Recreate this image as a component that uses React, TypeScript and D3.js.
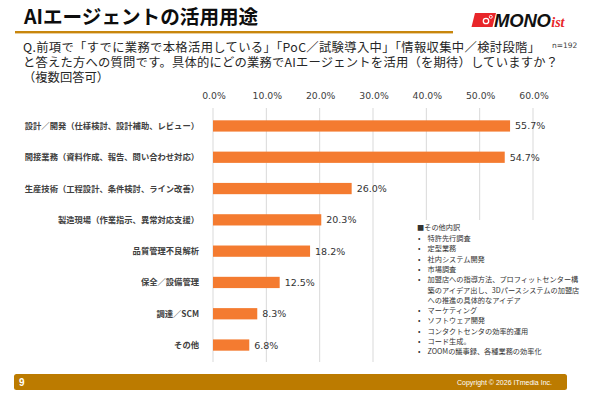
import React from "react";
import * as d3 from "d3";

const categories = [
  "設計／開発（仕様検討、設計補助、レビュー）",
  "間接業務（資料作成、報告、問い合わせ対応）",
  "生産技術（工程設計、条件検討、ライン改善）",
  "製造現場（作業指示、異常対応支援）",
  "品質管理不良解析",
  "保全／設備管理",
  "調達／SCM",
  "その他",
];
const values = [55.7, 54.7, 26.0, 20.3, 18.2, 12.5, 8.3, 6.8];
const tickValues = [0, 10, 20, 30, 40, 50, 60];

const titleText = "AIエージェントの活用用途";
const questionLines = [
  "Q.前項で「すでに業務で本格活用している」「PoC／試験導入中」「情報収集中／検討段階」",
  "と答えた方への質問です。具体的にどの業務でAIエージェントを活用（を期待）していますか？",
  "（複数回答可）",
];
const questionWidths = [517, 535, null];
const sampleSize = "n=192";
const noteTitle = "■その他内訳";
const noteItems: string[][] = [
  ["特許先行調査"],
  ["定型業務"],
  ["社内システム開発"],
  ["市場調査"],
  [
    "加盟店への指導方法、プロフィットセンター構",
    "築のアイデア出し、3Dパースシステムの加盟店",
    "への推進の具体的なアイデア",
  ],
  ["マーケティング"],
  ["ソフトウェア開発"],
  ["コンタクトセンタの効率的運用"],
  ["コード生成。"],
  ["ZOOMの議事録、各種業務の効率化"],
];
const pageNumber = "9";
const copyright = "Copyright © 2026 ITmedia Inc.";

const JP = "'Noto Sans CJK JP', 'Noto Sans', sans-serif";
const NUM = "'DejaVu Sans', Verdana, sans-serif";

export default function App() {
  const W = 590;
  const H = 393;
  const x = d3.scaleLinear().domain([0, 60]).range([213, 533]);
  const y = d3
    .scaleBand<string>()
    .domain(categories)
    .range([110.3, 360.7])
    .paddingInner(0.64)
    .paddingOuter(0.32);
  const gridTop = 108;
  const gridBottom = 362;
  const fmt = d3.format(".1f");

  const noteLines: { text: string; y: number; bullet: boolean }[] = [];
  let ny = 241;
  noteItems.forEach((item) => {
    item.forEach((t, i) => {
      noteLines.push({ text: t, y: ny, bullet: i === 0 });
      ny += 10.3;
    });
  });

  return (
    <svg
      width={W}
      height={H}
      style={{ position: "absolute", left: 0, top: 0, background: "#fff" }}
    >
      <rect x={0} y={0} width={W} height={H} fill="#fff" />
      {/* Title */}
      <text x={24} y={23.5} fontFamily={JP} fontWeight="bold" fontSize={19.6} fill="#0d0d0d">
        {titleText}
      </text>
      <rect x={15} y={31} width={438} height={2.4} fill="#C8860C" />
      {/* Logo */}
      <g>
        <polygon points="475,13 496,13 492.5,27 471.5,27" fill="#E8262A" />
        <circle cx={486} cy={21} r={2.7} fill="none" stroke="#fff" strokeWidth={1.3} />
        <circle cx={490.8} cy={16.8} r={1.5} fill="none" stroke="#fff" strokeWidth={0.9} />
        <text y={27} fontFamily="'Liberation Sans', Arial, sans-serif" fontStyle="italic" fontWeight="bold">
          <tspan x={494} fontSize={18.5} fill="#111" letterSpacing={-0.2}>
            MONO
          </tspan>
          <tspan
            fontFamily="'Liberation Serif', serif"
            fontSize={14}
            fill="#E8262A"
            dx={0.5}
          >
            ist
          </tspan>
        </text>
      </g>
      {/* Question */}
      {questionLines.map((t, i) => (
        <text
          key={i}
          x={23}
          y={52 + i * 15}
          fontFamily={JP}
          fontSize={12.3}
          fill="#262626"
          {...(questionWidths[i]
            ? { textLength: questionWidths[i] as number, lengthAdjust: "spacing" }
            : {})}
        >
          {t}
        </text>
      ))}
      <text x={552} y={48} fontFamily={NUM} fontSize={7.5} fill="#404040">
        {sampleSize}
      </text>
      {/* Gridlines */}
      {tickValues.map((t) => (
        <line
          key={t}
          x1={x(t)}
          x2={x(t)}
          y1={gridTop}
          y2={gridBottom}
          stroke="#d9d9d9"
          strokeWidth={1}
        />
      ))}
      {tickValues.map((t) => (
        <text
          key={"t" + t}
          x={x(t) + 1}
          y={98.5}
          textAnchor="middle"
          fontFamily={NUM}
          fontSize={9.3}
          fill="#404040"
        >
          {fmt(t) + "%"}
        </text>
      ))}
      {/* Bars */}
      {categories.map((c, i) => (
        <g key={c}>
          <rect
            x={x(0)}
            y={y(c)!}
            width={x(values[i]) - x(0)}
            height={y.bandwidth()}
            fill="#F47B30"
          />
          <text
            x={x(values[i]) + 5}
            y={y(c)! + y.bandwidth() / 2 + 3.5}
            fontFamily={NUM}
            fontSize={9.5}
            fill="#333"
          >
            {fmt(values[i]) + "%"}
          </text>
          <text
            x={199}
            y={y(c)! + y.bandwidth() / 2 + 3}
            textAnchor="end"
            fontFamily={JP}
            fontWeight="bold"
            fontSize={8.3}
            fill="#404040"
          >
            {c}
          </text>
        </g>
      ))}
      {/* Note box */}
      <rect x={410} y={220} width={172} height={143} fill="#fff" />
      <text x={417} y={230} fontFamily={JP} fontSize={7.2} fill="#333">
        {noteTitle}
      </text>
      {noteLines.map((l, i) => (
        <g key={i}>
          {l.bullet && (
            <text x={418} y={l.y} fontFamily={JP} fontSize={7.2} fill="#333">
              •
            </text>
          )}
          <text x={427.5} y={l.y} fontFamily={JP} fontSize={7.2} fill="#333">
            {l.text}
          </text>
        </g>
      ))}
      {/* Footer */}
      <rect x={14} y={374} width={553} height={16} rx={2.5} fill="#BC7B00" />
      <text
        x={19}
        y={386}
        fontFamily="'Liberation Sans', Arial, sans-serif"
        fontWeight="bold"
        fontSize={10}
        fill="#fff"
      >
        {pageNumber}
      </text>
      <text
        x={552}
        y={385}
        textAnchor="end"
        fontFamily="'Liberation Sans', Arial, sans-serif"
        fontSize={7}
        fill="#fff"
      >
        {copyright}
      </text>
    </svg>
  );
}
